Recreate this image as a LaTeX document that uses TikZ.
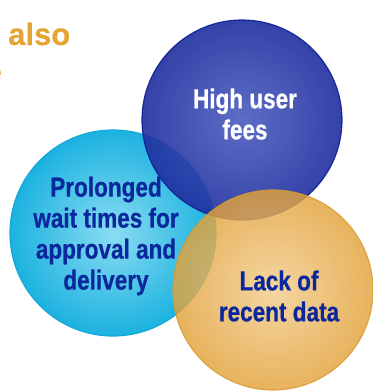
\documentclass[tikz,border=0pt]{standalone}
\usepackage{fontspec}
\setmainfont{Liberation Sans}[FakeStretch=0.82, BoldFeatures={FakeBold=0.6}]
\newfontfamily\widefont{Liberation Sans}[BoldFeatures={FakeBold=0.4}]

\definecolor{blueIn}{HTML}{4C5DC0}
\definecolor{blueOut}{HTML}{1F2E9E}
\definecolor{blueEdge}{HTML}{0B1F98}
\definecolor{cyanIn}{HTML}{8ADCF2}
\definecolor{cyanOut}{HTML}{1CB2E0}
\definecolor{cyanEdge}{HTML}{14A8D8}
\definecolor{orangeIn}{HTML}{F2CC8C}
\definecolor{orangeOut}{HTML}{E2A23A}
\definecolor{orangeEdge}{HTML}{D99A30}
\definecolor{textBlue}{HTML}{0B279C}
\definecolor{alsoOrange}{HTML}{E6A532}

\begin{document}
\begin{tikzpicture}[x=1pt, y=-1pt,
  ball/.style={line width=1.2pt},
  txt/.style={align=center, inner sep=0pt, text=textBlue,
    font=\bfseries\fontsize{27.5}{31}\selectfont},
  alsotxt/.style={inner sep=0pt, text=alsoOrange,
    font=\widefont\bfseries\fontsize{31}{36}\selectfont}]

  \useasboundingbox (0,0) rectangle (373,392);

  % ---- Wait times circle ----
  \shadedraw[ball, inner color=cyanIn, outer color=cyanOut, draw=cyanEdge]
    (113,233) circle (103);

  % ---- User fees circle ----
  \shadedraw[ball, inner color=blueIn, outer color=blueOut, draw=blueEdge, opacity=0.9]
    (242,120) circle (100);

  % ---- Recent data circle ----
  \shadedraw[ball, inner color=orangeIn, outer color=orangeOut, draw=orangeEdge, opacity=0.82]
    (273,290) circle (100);

  % labels
  \node[txt, text=white] (fees) at (245,114) {High user\\fees};
  \node[txt] (wait) at (106,236) {Prolonged\\wait times for\\approval and\\delivery};
  \node[txt] (lack) at (279,296) {Lack of\\recent data};

  % heading text, cut at the left edge
  \node[alsotxt, anchor=base west] (also) at (8,45) {also};
  \node[alsotxt, anchor=base east] (cut) at (2,82) {e};

\end{tikzpicture}
\end{document}
